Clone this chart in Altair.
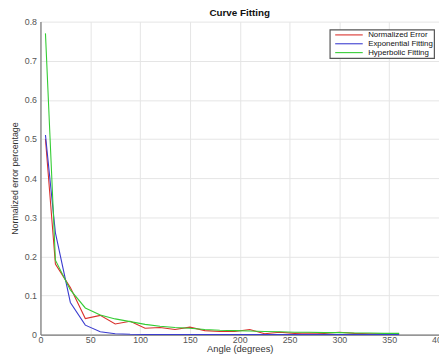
import altair as alt
import pandas as pd

angles = [5, 15, 30, 45, 60, 75, 90, 105, 120, 135, 150, 165, 180, 195, 210,
          225, 240, 255, 270, 285, 300, 315, 330, 345, 360]
normalized_error = [0.50, 0.18, 0.12, 0.041, 0.049, 0.027, 0.034, 0.016, 0.018, 0.013,
                    0.019, 0.010, 0.008, 0.008, 0.013, 0.002, 0.006, 0.003, 0.004, 0.003,
                    0.006, 0.003, 0.002, 0.002, 0.001]
exponential_fit = [0.51, 0.26, 0.082, 0.024, 0.007, 0.002, 0.0006, 0.0002, 0.0001, 0.0,
                   0.0, 0.0, 0.0, 0.0, 0.0, 0.0, 0.0, 0.0, 0.0, 0.0,
                   0.0, 0.0, 0.0, 0.0, 0.0]
hyperbolic_fit = [0.77, 0.19, 0.114, 0.068, 0.05, 0.04, 0.033, 0.026, 0.021, 0.018,
                  0.016, 0.013, 0.011, 0.010, 0.009, 0.008, 0.007, 0.006, 0.006, 0.005,
                  0.005, 0.004, 0.004, 0.003, 0.003]
series = ["Normalized Error", "Exponential Fitting", "Hyperbolic Fitting"]
colors = ["#d9302c", "#3a3ccf", "#33cc33"]
x_ticks = [0, 50, 100, 150, 200, 250, 300, 350, 400]
y_ticks = [0, 0.1, 0.2, 0.3, 0.4, 0.5, 0.6, 0.7, 0.8]

rows = []
for k, (name, vals) in enumerate(zip(series, [normalized_error, exponential_fit, hyperbolic_fit])):
    for a, v in zip(angles, vals):
        rows.append({"angle": a, "value": v, "series": name, "k": k})
df = pd.DataFrame(rows)

FONT = "Liberation Sans"

chart = alt.Chart(df).mark_line(strokeWidth=1.1).encode(
    x=alt.X("angle:Q",
            scale=alt.Scale(domain=[0, 400], nice=False),
            axis=alt.Axis(title="Angle (degrees)", values=x_ticks, format="d",
                          labelFontSize=9, titleFontSize=9.5, labelPadding=1,
                          titlePadding=-1, ticks=False, labelFlush=False)),
    y=alt.Y("value:Q",
            scale=alt.Scale(domain=[0, 0.8], nice=False),
            axis=alt.Axis(title="Normalized error percentage", values=y_ticks,
                          format=".1~f", labelFontSize=9, titleFontSize=9,
                          labelPadding=4, titlePadding=5, ticks=False)),
    color=alt.Color("series:N",
                    scale=alt.Scale(domain=series, range=colors),
                    legend=alt.Legend(title=None, orient="none", legendX=294, legendY=8,
                                      fillColor="white", strokeColor="#555555",
                                      padding=1, symbolType="M-4,0H4", symbolSize=49,
                                      symbolOffset=14, symbolStrokeWidth=1.1,
                                      labelFontSize=8, labelFont=FONT, rowPadding=0,
                                      labelOffset=15, labelColor="#111111",
                                      labelLimit=200)),
    detail="series:N",
    order="k:Q",
).properties(
    width=405,
    height=318,
    title=alt.TitleParams("Curve Fitting", fontSize=10, font=FONT, fontWeight="bold",
                          offset=0, anchor="middle", color="#111111"),
    autosize=alt.AutoSizeParams(type="none"),
    padding={"left": 33, "top": 11, "right": 0, "bottom": 22},
).configure_view(
    stroke=None
).configure_axis(
    labelFont=FONT, titleFont=FONT, labelColor="#555555", titleColor="#333333",
    titleFontWeight="normal", domainColor="#777777", domainWidth=1.2,
    gridColor="#e4e4e4", gridWidth=1
).configure_legend(
    strokeWidth=1.2
)

chart.save("out.html", embed_options={"renderer": "svg", "actions": False})
